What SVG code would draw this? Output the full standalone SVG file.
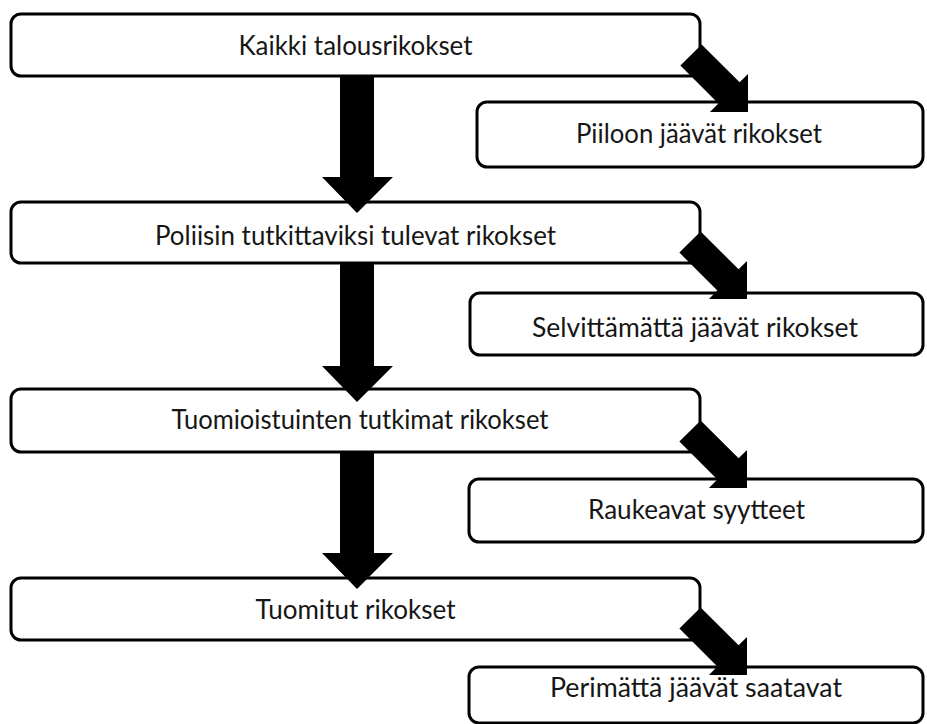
<svg xmlns="http://www.w3.org/2000/svg" xmlns:xlink="http://www.w3.org/1999/xlink" width="927" height="724" viewBox="0 0 927 724">
  <style>
    .box { fill: #ffffff; stroke: #000000; stroke-width: 3; }
    .lbl { font-family: "Lato", "Open Sans", "Liberation Sans", sans-serif; font-size: 27px; fill: #161616; text-anchor: middle; }
    .arr { fill: #000000; stroke: none; }
  </style>
  <defs>
    <polygon id="diag" class="arr" points="-80.6,-15 -26.9,-15 -26.9,-26.9 0,0 -26.9,26.9 -26.9,15 -80.6,15"/>
  </defs>
  <rect width="927" height="724" fill="#ffffff"/>

  <g id="node-kaikki">
    <rect class="box" x="11" y="14" width="689" height="62" rx="10"/>
    <text class="lbl" x="355.5" y="55" textLength="234" lengthAdjust="spacingAndGlyphs">Kaikki talousrikokset</text>
  </g>
  <g id="node-piiloon">
    <rect class="box" x="477" y="102" width="446" height="65" rx="10"/>
    <text class="lbl" x="699" y="143" textLength="246" lengthAdjust="spacingAndGlyphs">Piiloon jäävät rikokset</text>
  </g>
  <g id="node-poliisin">
    <rect class="box" x="11" y="202" width="689" height="61" rx="10"/>
    <text class="lbl" x="355.5" y="245" textLength="401" lengthAdjust="spacingAndGlyphs">Poliisin tutkittaviksi tulevat rikokset</text>
  </g>
  <g id="node-selvittamatta">
    <rect class="box" x="470" y="293" width="453" height="62" rx="10"/>
    <text class="lbl" x="695" y="336.5" textLength="326" lengthAdjust="spacingAndGlyphs">Selvittämättä jäävät rikokset</text>
  </g>
  <g id="node-tuomioistuinten">
    <rect class="box" x="11" y="389" width="689" height="63" rx="10"/>
    <text class="lbl" x="360" y="429" textLength="377" lengthAdjust="spacingAndGlyphs">Tuomioistuinten tutkimat rikokset</text>
  </g>
  <g id="node-raukeavat">
    <rect class="box" x="469" y="479" width="454" height="63" rx="10"/>
    <text class="lbl" x="696.5" y="519" textLength="217" lengthAdjust="spacingAndGlyphs">Raukeavat syytteet</text>
  </g>
  <g id="node-tuomitut">
    <rect class="box" x="11" y="578" width="689" height="62" rx="10"/>
    <text class="lbl" x="355.5" y="619" textLength="200" lengthAdjust="spacingAndGlyphs">Tuomitut rikokset</text>
  </g>
  <g id="node-perimatta">
    <rect class="box" x="469" y="667" width="454" height="56" rx="10"/>
    <text class="lbl" x="696" y="697" textLength="292" lengthAdjust="spacingAndGlyphs">Perimättä jäävät saatavat</text>
  </g>

  <g id="connectors">
    <polygon class="arr" points="340,76 374,76 374,177 393,177 357,213 322,177 340,177"/>
    <polygon class="arr" points="340,263 374,263 374,366 393,366 357,402 322,366 340,366"/>
    <polygon class="arr" points="340,452 374,452 374,553 393,553 357,589 322,553 340,553"/>
    <use xlink:href="#diag" transform="translate(748,112) rotate(45)"/>
    <use xlink:href="#diag" transform="translate(747,299) rotate(45)"/>
    <use xlink:href="#diag" transform="translate(747,488) rotate(45)"/>
    <use xlink:href="#diag" transform="translate(747,675) rotate(45)"/>
  </g>
</svg>
